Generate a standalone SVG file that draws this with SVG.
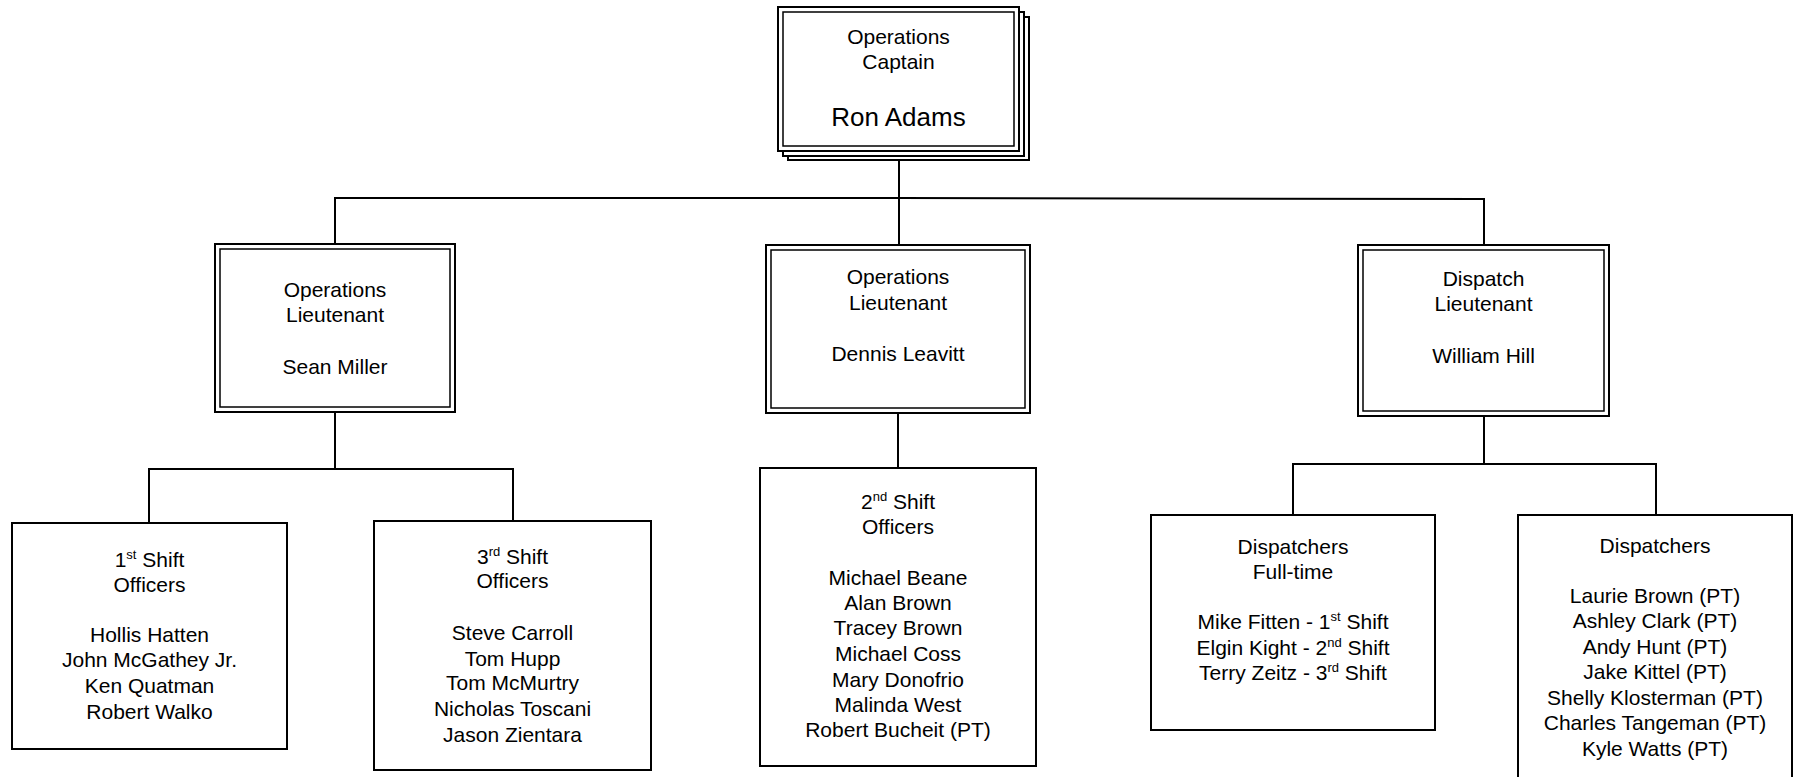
<svg xmlns="http://www.w3.org/2000/svg" width="1795" height="777" viewBox="0 0 1795 777">
<style>
.box{fill:#fff;stroke:#000;stroke-width:2}
.inner{fill:none;stroke:#000;stroke-width:1.5}
.conn{stroke:#000;stroke-width:2;fill:none}
text{font-family:"Liberation Sans",Arial,sans-serif;font-size:21px;text-anchor:middle;fill:#000}
.big{font-size:26px}
.sup{font-size:13px}
</style>
<rect width="1795" height="777" fill="#fff"/>
<g id="connectors">
<polyline class="conn" points="899,160 899,245"/>
<polyline class="conn" points="335,244 335,198 899,198 1484,199 1484,245"/>
<polyline class="conn" points="335,412 335,469"/>
<polyline class="conn" points="149,523 149,469 513,469 513,521"/>
<polyline class="conn" points="898,413 898,468"/>
<polyline class="conn" points="1484,416 1484,464"/>
<polyline class="conn" points="1293,515 1293,464 1656,464 1656,515"/>
</g>
<g id="captain">
<rect class="box" x="788" y="17" width="241" height="143"/>
<rect class="box" x="783" y="12" width="241" height="144"/>
<rect class="box" x="778" y="7" width="241" height="144"/>
<rect class="inner" x="783" y="12" width="231" height="134"/>
<text x="898.5" y="44">Operations</text>
<text x="898.5" y="69">Captain</text>
<text class="big" x="898.5" y="126">Ron Adams</text>
</g>
<g id="lt-miller">
<rect class="box" x="215" y="244" width="240" height="168"/>
<rect class="inner" x="220" y="249" width="230" height="158"/>
<text x="335" y="297">Operations</text>
<text x="335" y="322">Lieutenant</text>
<text x="335" y="374">Sean Miller</text>
</g>
<g id="lt-leavitt">
<rect class="box" x="766" y="245" width="264" height="168"/>
<rect class="inner" x="771" y="250" width="254" height="158"/>
<text x="898" y="284">Operations</text>
<text x="898" y="310">Lieutenant</text>
<text x="898" y="361">Dennis Leavitt</text>
</g>
<g id="lt-hill">
<rect class="box" x="1358" y="245" width="251" height="171"/>
<rect class="inner" x="1363" y="250" width="241" height="161"/>
<text x="1483.5" y="286">Dispatch</text>
<text x="1483.5" y="311">Lieutenant</text>
<text x="1483.5" y="363">William Hill</text>
</g>
<g id="shift1">
<rect class="box" x="12" y="523" width="275" height="226"/>
<text x="149.5" y="567">1<tspan class="sup" dy="-8">st</tspan><tspan dy="8"> Shift</tspan></text>
<text x="149.5" y="592">Officers</text>
<text x="149.5" y="642">Hollis Hatten</text>
<text x="149.5" y="667">John McGathey Jr.</text>
<text x="149.5" y="693">Ken Quatman</text>
<text x="149.5" y="719">Robert Walko</text>
</g>
<g id="shift3">
<rect class="box" x="374" y="521" width="277" height="249"/>
<text x="512.5" y="564">3<tspan class="sup" dy="-8">rd</tspan><tspan dy="8"> Shift</tspan></text>
<text x="512.5" y="588">Officers</text>
<text x="512.5" y="640">Steve Carroll</text>
<text x="512.5" y="666">Tom Hupp</text>
<text x="512.5" y="690">Tom McMurtry</text>
<text x="512.5" y="716">Nicholas Toscani</text>
<text x="512.5" y="742">Jason Zientara</text>
</g>
<g id="shift2">
<rect class="box" x="760" y="468" width="276" height="298"/>
<text x="898" y="509">2<tspan class="sup" dy="-8">nd</tspan><tspan dy="8"> Shift</tspan></text>
<text x="898" y="534">Officers</text>
<text x="898" y="585">Michael Beane</text>
<text x="898" y="610">Alan Brown</text>
<text x="898" y="635">Tracey Brown</text>
<text x="898" y="661">Michael Coss</text>
<text x="898" y="687">Mary Donofrio</text>
<text x="898" y="712">Malinda West</text>
<text x="898" y="737">Robert Bucheit (PT)</text>
</g>
<g id="dispatch-ft">
<rect class="box" x="1151" y="515" width="284" height="215"/>
<text x="1293" y="554">Dispatchers</text>
<text x="1293" y="579">Full-time</text>
<text x="1293" y="629">Mike Fitten - 1<tspan class="sup" dy="-8">st</tspan><tspan dy="8"> Shift</tspan></text>
<text x="1293" y="655">Elgin Kight - 2<tspan class="sup" dy="-8">nd</tspan><tspan dy="8"> Shift</tspan></text>
<text x="1293" y="680">Terry Zeitz - 3<tspan class="sup" dy="-8">rd</tspan><tspan dy="8"> Shift</tspan></text>
</g>
<g id="dispatch-pt">
<rect class="box" x="1518" y="515" width="274" height="285"/>
<text x="1655" y="553">Dispatchers</text>
<text x="1655" y="603">Laurie Brown (PT)</text>
<text x="1655" y="628">Ashley Clark (PT)</text>
<text x="1655" y="654">Andy Hunt (PT)</text>
<text x="1655" y="679">Jake Kittel (PT)</text>
<text x="1655" y="705">Shelly Klosterman (PT)</text>
<text x="1655" y="730">Charles Tangeman (PT)</text>
<text x="1655" y="756">Kyle Watts (PT)</text>
</g>
</svg>
